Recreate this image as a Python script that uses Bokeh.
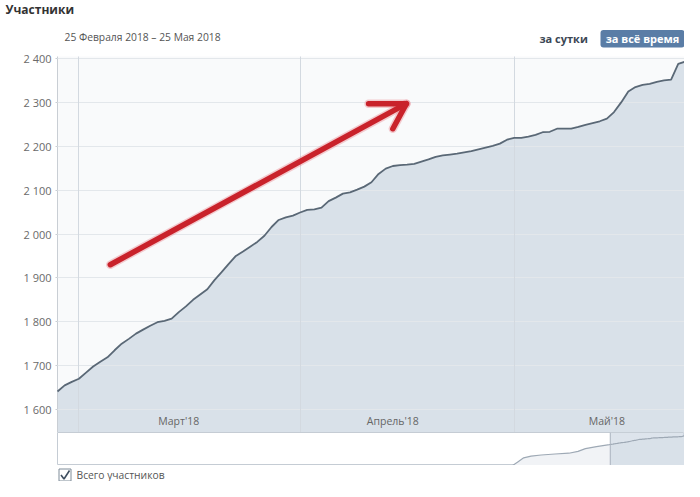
import pandas as pd
from bokeh.plotting import figure
from bokeh.models import Range1d, FixedTicker, Grid
from bokeh.layouts import column
from bokeh.core.properties import value
from bokeh.embed import file_html
from bokeh.resources import INLINE

# ---------------- data ----------------
TITLE = "Участники"
PERIOD = "25 Февраля 2018 – 25 Мая 2018"
BTN_DAY = "за сутки"
BTN_ALL = "за всё время"
LEGEND = "Всего участников"

START = "2018-02-26"
MEMBERS = [
    1641, 1655, 1663, 1670, 1684, 1698, 1709, 1719, 1735, 1750,
    1761, 1773, 1782, 1791, 1799, 1802, 1807, 1822, 1835, 1850,
    1862, 1874, 1895, 1913, 1932, 1950, 1960, 1971, 1982, 1996,
    2016, 2032, 2038, 2042, 2049, 2055, 2056, 2060, 2075, 2083,
    2092, 2095, 2101, 2108, 2118, 2137, 2149, 2155, 2157, 2158,
    2160, 2165, 2170, 2176, 2179, 2181, 2183, 2186, 2189, 2193,
    2197, 2201, 2206, 2215, 2219, 2219, 2222, 2226, 2232, 2233,
    2240, 2240, 2240, 2244, 2249, 2253, 2257, 2263, 2278, 2300,
    2325, 2335, 2340, 2342, 2347, 2350, 2352, 2388, 2393, 2394,
]
MONTH_STARTS = ["2018-03-01", "2018-04-01", "2018-05-01"]
MONTH_LABEL_DATES = ["2018-03-15", "2018-04-14", "2018-05-14"]
MONTH_LABELS = ["Март'18", "Апрель'18", "Май'18"]
Y_TICKS = [1600, 1700, 1800, 1900, 2000, 2100, 2200, 2300, 2400]
Y_TICK_LABELS = ["1 600", "1 700", "1 800", "1 900", "2 000", "2 100", "2 200", "2 300", "2 400"]

# navigator history (days relative to START) before the shown period
NAV_HIST_DAYS = [-106, -100, -94, -86, -75, -60, -45, -35, -27, -15, -1]
NAV_HIST_VALUES = [0, 300, 600, 730, 820, 900, 960, 1100, 1320, 1480, 1630]

# hand-drawn arrow (data coords: day, members)
ARROW_SHAFT_X = [7.4, 48.9]
ARROW_SHAFT_Y = [1930, 2297]
ARROW_HEAD_X = [43.6, 48.9, 47.0]
ARROW_HEAD_Y = [2297, 2297, 2240]

# ---------------- derived ----------------
start = pd.Timestamp(START)
days = list(range(len(MEMBERS)))
month_pos = [(pd.Timestamp(d) - start).days for d in MONTH_STARTS]
label_pos = [(pd.Timestamp(d) - start).days for d in MONTH_LABEL_DATES]

FONT = value("Open Sans")
W = 684
LEFT = 57
FRAME_W = W - LEFT
PX_PER_DAY = 7.135
X_END = FRAME_W / PX_PER_DAY
Y0, Y1 = 1547.6, 2404.6


def blank(height, x_left, y_top, y_bottom, border_left):
    f = figure(width=W, height=height, x_range=Range1d(x_left, W), y_range=Range1d(y_bottom, y_top),
               output_backend="svg", toolbar_location=None, title=None,
               x_axis_location=None, y_axis_location=None,
               min_border_left=border_left, min_border_right=0, min_border_top=0,
               min_border_bottom=0, outline_line_color=None,
               background_fill_color="white", border_fill_color="white")
    f.grid.visible = False
    return f


# ---------------- header ----------------
h = blank(50, 0, 0, 50, 0)
h.text(x=[5], y=[9], text=[TITLE], text_font=FONT, text_font_size="12px",
       text_font_style="bold", text_color="#333333", text_baseline="middle", text_align="left")
h.text(x=[64], y=[36], text=[PERIOD], text_font=FONT, text_font_size="10.3px",
       text_color="#555555", text_baseline="middle", text_align="left")
h.text(x=[539], y=[38], text=[BTN_DAY], text_font=FONT, text_font_size="11px",
       text_font_style="bold", text_color="#3b4754", text_baseline="middle", text_align="left")
h.quad(left=[600], right=[684], top=[29.5], bottom=[47], fill_color="#5a7da6",
       line_color=None, border_radius=3)
h.text(x=[642], y=[38], text=[BTN_ALL], text_font=FONT, text_font_size="11px",
       text_font_style="bold", text_color="white", text_baseline="middle", text_align="center")

# ---------------- main chart ----------------
p = figure(width=W, height=382, x_range=Range1d(0, X_END), y_range=Range1d(Y0, Y1),
           output_backend="svg", toolbar_location=None, title=None,
           x_axis_location=None,
           min_border_left=LEFT, min_border_right=0, min_border_top=6, min_border_bottom=0,
           outline_line_color=None, background_fill_color="#f9fafb", border_fill_color="white")
p.xgrid.visible = False
p.ygrid.visible = False

p.varea(x=days, y1=[Y0] * len(MEMBERS), y2=MEMBERS, fill_color="#d9e1e9")

p.add_layout(Grid(dimension=1, ticker=FixedTicker(ticks=Y_TICKS), grid_line_color="#e3e7eb",
                  grid_line_width=1, level="guide"))
p.add_layout(Grid(dimension=0, ticker=FixedTicker(ticks=month_pos), grid_line_color="#d3d9e0",
                  grid_line_width=1, level="guide"))

ln = p.line(x=days, y=MEMBERS, line_color="#5a6876", line_width=1.8, line_join="round")
ln.level = "annotation"

p.text(x=label_pos, y=[1573] * 3, text=MONTH_LABELS, text_font=FONT, text_font_size="10.5px",
       text_color="#666666", text_baseline="middle", text_align="center")

glow = p.multi_line(xs=[ARROW_SHAFT_X, ARROW_HEAD_X], ys=[ARROW_SHAFT_Y, ARROW_HEAD_Y],
                    line_color="#e8707a", line_alpha=0.35, line_width=8.5,
                    line_cap="round", line_join="round")
glow.level = "annotation"
arr = p.multi_line(xs=[ARROW_SHAFT_X, ARROW_HEAD_X], ys=[ARROW_SHAFT_Y, ARROW_HEAD_Y],
                   line_color="#c9222b", line_width=5.5, line_cap="round", line_join="round")
arr.level = "annotation"

p.yaxis.ticker = FixedTicker(ticks=Y_TICKS)
p.yaxis.major_label_overrides = dict(zip(Y_TICKS, Y_TICK_LABELS))
p.yaxis.major_label_text_font = "Open Sans"
p.yaxis.major_label_text_font_size = "11px"
p.yaxis.major_label_text_color = "#6a6a6a"
p.yaxis.axis_line_color = "#c9ced4"
p.yaxis.major_tick_line_color = "#c9ced4"
p.yaxis.major_tick_out = 2
p.yaxis.major_tick_in = 0
p.yaxis.minor_tick_line_color = None
p.yaxis.major_label_standoff = 4

# ---------------- navigator ----------------
nav_x = NAV_HIST_DAYS + days
nav_y = NAV_HIST_VALUES + MEMBERS
NAV_PX_PER_DAY = 0.9213
NAV_START = -600
n = figure(width=W, height=33, x_range=Range1d(NAV_START, NAV_START + FRAME_W / NAV_PX_PER_DAY),
           y_range=Range1d(0, 2580),
           output_backend="svg", toolbar_location=None, title=None,
           x_axis_location=None, y_axis_location=None,
           min_border_left=LEFT, min_border_right=0, min_border_top=0, min_border_bottom=0,
           outline_line_color="#c5ccd4", background_fill_color="white", border_fill_color="white")
n.grid.visible = False
n.varea(x=nav_x, y1=[0] * len(nav_x), y2=nav_y, fill_color="#f1f3f6")
n.quad(left=[0], right=[len(MEMBERS) - 1], bottom=[0], top=[2580],
       fill_color="#cfd9e4", fill_alpha=0.7, line_color=None)
n.line(x=nav_x, y=nav_y, line_color="#9ea9b5", line_width=1.2)
n.segment(x0=[0], x1=[0], y0=[0], y1=[2580], line_color="#a9b3be", line_width=1)

# ---------------- legend ----------------
lg = blank(16, LEFT, 465, 481, LEFT)
lg.quad(left=[58.5], right=[70.5], top=[468.5], bottom=[480.5], fill_color="white",
        line_color="#7f8c99", line_width=1)
lg.line(x=[60.5, 63.5, 69], y=[474.5, 478.5, 470], line_color="#3f4f60", line_width=1.6)
lg.text(x=[76], y=[474.5], text=[LEGEND], text_font=FONT, text_font_size="10.3px",
        text_color="#555555", text_baseline="middle", text_align="left")

layout = column(h, column(p, n, lg, spacing=0), spacing=0)
open("out.html", "w").write(file_html(layout, INLINE))
